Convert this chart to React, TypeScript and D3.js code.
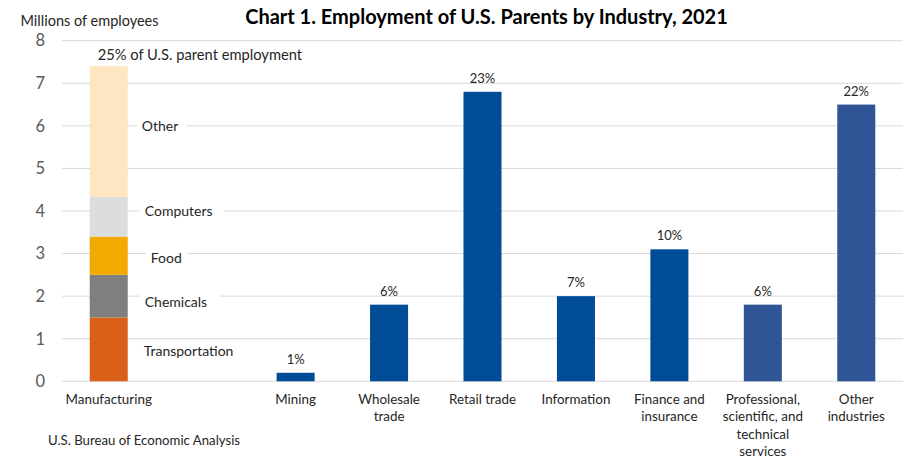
import React from "react";
import * as d3 from "d3";

const categories = ["Manufacturing", "spacer", "Mining", "Wholesale trade", "Retail trade", "Information", "Finance and insurance", "Professional, scientific, and technical services", "Other industries"];
const categoryLines = [["Manufacturing"], [], ["Mining"], ["Wholesale", "trade"], ["Retail trade"], ["Information"], ["Finance and", "insurance"], ["Professional,", "scientific, and", "technical", "services"], ["Other", "industries"]];
const industryBars = ["Mining", "Wholesale trade", "Retail trade", "Information", "Finance and insurance", "Professional, scientific, and technical services", "Other industries"];
const industryValues = [0.2, 1.8, 6.8, 2.0, 3.1, 1.8, 6.5];
const industryShares = ["1%", "6%", "23%", "7%", "10%", "6%", "22%"];
const industryColors = ["#004C97", "#004C97", "#004C97", "#004C97", "#004C97", "#2F5597", "#2F5597"];

const mfgSegments = ["Transportation", "Chemicals", "Food", "Computers", "Other"];
const mfgValues = [1.5, 1.0, 0.9, 0.93, 3.07];
const mfgColors = ["#DA5F19", "#7F7F7F", "#F2A900", "#DCDDDE", "#FDE6C1"];
const mfgLabelAt = [0.7, 1.85, 2.9, 4.0, 6.0];
const mfgLabelDx = [16, 17, 23, 17, 14];
const mfgShare = "25% of U.S. parent employment";

const yTicks = [0, 1, 2, 3, 4, 5, 6, 7, 8];

const W = 916, H = 475;
const FONT = "Lato, 'Noto Sans', sans-serif";

export default function App() {
  const x = d3.scaleBand<string>().domain(categories).range([62, 903]).paddingInner(0.593).paddingOuter(0.2965);
  const y = d3.scaleLinear().domain([0, 8]).range([381.3, 40.7]);
  const bw = x.bandwidth();

  const stackData = [Object.fromEntries(mfgSegments.map((s, i) => [s, mfgValues[i]]))];
  const stacked = d3.stack<any>().keys(mfgSegments)(stackData);
  const mx = x("Manufacturing")!;
  const mfgTotal = d3.sum(mfgValues);

  const labelWidths: Record<string, number> = { Transportation: 108, Chemicals: 80, Food: 42, Computers: 84, Other: 50 };

  return (
    <svg width={W} height={H} style={{ position: "absolute", left: 0, top: 0, background: "#fff" }} fontFamily={FONT}>
      <rect x={0} y={0} width={W} height={H} fill="#fff" />
      {yTicks.map(t => (
        <g key={t}>
          <line x1={62} x2={903} y1={y(t)} y2={y(t)} stroke="#D9D9D9" strokeWidth={1} />
          <text x={45} y={y(t)} dy="0.35em" textAnchor="end" fontSize={16.5} fill="#595959">{t}</text>
        </g>
      ))}
      {stacked.map((layer, i) => (
        <rect key={layer.key} x={mx} width={bw} y={y(layer[0][1])} height={y(layer[0][0]) - y(layer[0][1])} fill={mfgColors[i]} />
      ))}
      {mfgSegments.map((s, i) => {
        const lx = mx + bw + mfgLabelDx[i];
        return (
          <g key={s}>
            <rect x={lx - 5} y={y(mfgLabelAt[i]) - 9} width={labelWidths[s]} height={18} fill="#fff" />
            <text x={lx} y={y(mfgLabelAt[i])} dy="0.35em" fontSize={14} fill="#262626">{s}</text>
          </g>
        );
      })}
      <text x={mx + 8} y={y(mfgTotal) - 6} fontSize={14.7} fill="#262626">{mfgShare}</text>
      {industryBars.map((c, i) => (
        <g key={c}>
          <rect x={x(c)!} width={bw} y={y(industryValues[i])} height={y(0) - y(industryValues[i])} fill={industryColors[i]} />
          <text x={x(c)! + bw / 2} y={y(industryValues[i]) - 9} textAnchor="middle" fontSize={13} fill="#262626">{industryShares[i]}</text>
        </g>
      ))}
      {categories.map((c, i) => (
        <text key={c} x={x(c)! + bw / 2} y={404} textAnchor="middle" fontSize={13.4} fill="#262626">
          {categoryLines[i].map((l, j) => (
            <tspan key={j} x={x(c)! + bw / 2} dy={j === 0 ? 0 : 17.3}>{l}</tspan>
          ))}
        </text>
      ))}
      <text x={486.5} y={24} textAnchor="middle" fontSize={20} fontWeight="bold" fill="#000">Chart 1. Employment of U.S. Parents by Industry, 2021</text>
      <text x={20.5} y={26} fontSize={14.5} fill="#262626">Millions of employees</text>
      <text x={48} y={445} fontSize={13.2} fill="#262626">U.S. Bureau of Economic Analysis</text>
    </svg>
  );
}
